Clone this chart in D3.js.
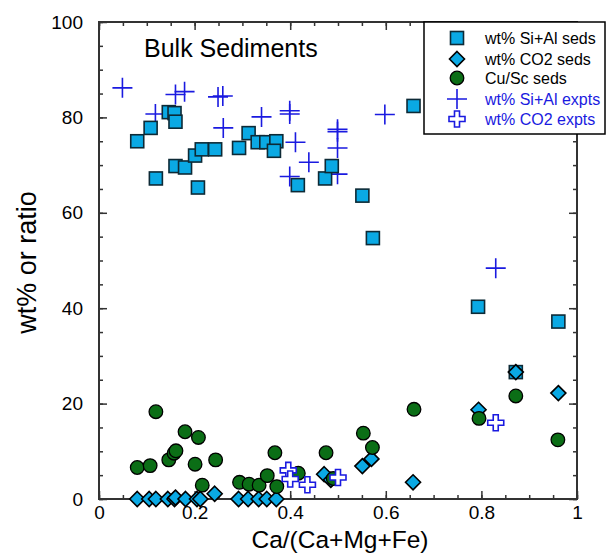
<!DOCTYPE html>
<html>
<head>
<meta charset="utf-8">
<script src="https://cdn.jsdelivr.net/npm/d3@7"></script>
<style>
  body { margin: 0; background: #fff; }
  svg { font-family: "Liberation Sans", Arial, sans-serif; }
</style>
</head>
<body>
<svg id="chart" width="610" height="560"></svg>
<script>
// Ca/(Ca+Mg+Fe) vs wt% or ratio
var siAlSeds = [[0.080,75.0],[0.108,77.8],[0.119,67.2],[0.146,81.1],[0.158,80.9],[0.160,79.1],[0.160,69.8],[0.180,69.5],
  [0.201,72.0],[0.207,65.3],[0.215,73.3],[0.243,73.3],[0.293,73.6],[0.313,76.7],[0.332,74.8],[0.350,74.8],[0.371,75.0],
  [0.366,73.0],[0.416,65.8],[0.473,67.2],[0.487,69.8],[0.551,63.6],[0.573,54.7],[0.658,82.4],[0.793,40.3],[0.872,26.6],[0.961,37.2]];
var co2Seds = [[0.080,0],[0.105,0],[0.119,0],[0.144,0],[0.158,0],[0.160,0.3],[0.181,0],[0.205,0],[0.212,0],[0.242,1.1],
  [0.292,0],[0.312,0],[0.334,0],[0.351,0],[0.371,0],[0.471,5.2],[0.485,4.0],[0.551,6.9],[0.570,8.4],[0.657,3.5],
  [0.794,18.7],[0.872,26.6],[0.961,22.2]];
var cuScSeds = [[0.080,6.6],[0.107,7.0],[0.119,18.3],[0.146,8.2],[0.157,9.6],[0.161,10.1],[0.180,14.1],[0.201,7.3],
  [0.208,12.9],[0.216,2.9],[0.244,8.2],[0.294,3.5],[0.314,3.1],[0.335,2.9],[0.352,4.9],[0.368,9.7],[0.372,2.6],[0.417,5.4],
  [0.475,9.7],[0.490,4.3],[0.553,13.8],[0.572,10.8],[0.659,18.8],[0.795,16.9],[0.872,21.6],[0.960,12.4]];
var siAlExpts = [[0.049,86.2],[0.118,80.7],[0.160,84.8],[0.179,85.4],[0.249,84.3],[0.259,84.5],[0.260,77.8],[0.340,80.1],
  [0.399,81.4],[0.399,80.7],[0.411,74.8],[0.439,70.6],[0.399,67.6],[0.499,77.5],[0.499,77.0],[0.499,73.6],[0.499,68.1],
  [0.598,80.6],[0.830,48.4]];
var co2Expts = [[0.396,6.0],[0.400,4.2],[0.436,3.0],[0.500,4.5],[0.830,16.0]];

var xMajor = [0, 0.2, 0.4, 0.6, 0.8, 1];
var yMajor = [0, 20, 40, 60, 80, 100];
var legendLabels = ["wt% Si+Al seds", "wt% CO2 seds", "Cu/Sc seds", "wt% Si+Al expts", "wt% CO2 expts"];

var margin = {left: 99, right: 33, top: 22, bottom: 61};
var svg = d3.select("#chart");
var W = 610 - margin.left - margin.right, H = 560 - margin.top - margin.bottom;
var g = svg.append("g").attr("transform", "translate(" + margin.left + "," + margin.top + ")");

var x = d3.scaleLinear().domain([0, 1]).range([0, W]);
var y = d3.scaleLinear().domain([0, 100]).range([H, 0]);

var blue = "#1a1ae0", cyan = "#0aa9e4", green = "#0b6e16", axisCol = "#333";
var xMinor = d3.range(0, 1.0001, 0.05), yMinor = d3.range(0, 100.01, 5);

function styleAxis(sel, showText) {
  sel.select(".domain").remove();
  sel.selectAll(".tick line").attr("stroke", axisCol).attr("stroke-width", 1.5);
  if (showText) sel.selectAll(".tick text").attr("fill", "#000").style("font-size", "19px");
  else sel.selectAll(".tick text").remove();
}

// minor ticks
g.append("g").attr("transform", "translate(0," + H + ")")
  .call(d3.axisBottom(x).tickValues(xMinor).tickSize(-4)).call(styleAxis, false);
g.append("g").call(d3.axisTop(x).tickValues(xMinor).tickSize(-4)).call(styleAxis, false);
g.append("g").call(d3.axisLeft(y).tickValues(yMinor).tickSize(-4)).call(styleAxis, false);
g.append("g").attr("transform", "translate(" + W + ",0)")
  .call(d3.axisRight(y).tickValues(yMinor).tickSize(-4)).call(styleAxis, false);
// major ticks
g.append("g").attr("transform", "translate(0," + H + ")")
  .call(d3.axisBottom(x).tickValues(xMajor).tickSize(-8).tickPadding(7).tickFormat(d3.format("~g"))).call(styleAxis, true);
g.append("g").call(d3.axisTop(x).tickValues(xMajor).tickSize(-8)).call(styleAxis, false);
g.append("g").call(d3.axisLeft(y).tickValues(yMajor).tickSize(-8).tickPadding(16)).call(styleAxis, true);
g.append("g").attr("transform", "translate(" + W + ",0)")
  .call(d3.axisRight(y).tickValues(yMajor).tickSize(-8)).call(styleAxis, false);

g.append("rect").attr("width", W).attr("height", H)
  .attr("fill", "none").attr("stroke", axisCol).attr("stroke-width", 2);

// symbols
var crossPath = "M-10,0H10M0,-10V10";
var openCross = "M-2.5,-8H2.5V-2.5H8V2.5H2.5V8H-2.5V2.5H-8V-2.5H-2.5Z";
var diamond = "M0,-7.5L7.5,0L0,7.5L-7.5,0Z";

g.selectAll("path.xp").data(siAlExpts).enter().append("path").attr("class", "xp")
  .attr("d", crossPath).attr("transform", function(d) { return "translate(" + x(d[0]) + "," + y(d[1]) + ")"; })
  .attr("stroke", blue).attr("stroke-width", 1.6).attr("fill", "none");

g.selectAll("rect.sq").data(siAlSeds).enter().append("rect").attr("class", "sq")
  .attr("x", function(d) { return x(d[0]) - 6.5; }).attr("y", function(d) { return y(d[1]) - 6.5; })
  .attr("width", 13).attr("height", 13)
  .attr("fill", cyan).attr("stroke", "#0d2a36").attr("stroke-width", 1.6);

g.selectAll("path.dm").data(co2Seds).enter().append("path").attr("class", "dm")
  .attr("d", diamond)
  .attr("transform", function(d) { return "translate(" + x(d[0]) + "," + y(d[1]) + ")"; })
  .attr("fill", cyan).attr("stroke", "#000").attr("stroke-width", 1.6);

g.selectAll("circle.cu").data(cuScSeds).enter().append("circle").attr("class", "cu")
  .attr("cx", function(d) { return x(d[0]); }).attr("cy", function(d) { return y(d[1]); })
  .attr("r", 6.8).attr("fill", green).attr("stroke", "#000").attr("stroke-width", 1.3);

g.selectAll("path.oc").data(co2Expts).enter().append("path").attr("class", "oc")
  .attr("d", openCross)
  .attr("transform", function(d) { return "translate(" + x(d[0]) + "," + y(d[1]) + ")"; })
  .attr("fill", "#fff").attr("stroke", blue).attr("stroke-width", 1.6);

// title
g.append("text").attr("x", 45).attr("y", 35).style("font-size", "25px").text("Bulk Sediments");

// axis labels
svg.append("text").attr("x", margin.left + W / 2 + 2).attr("y", 548)
  .attr("text-anchor", "middle").style("font-size", "24.5px").text("Ca/(Ca+Mg+Fe)");
svg.append("text").attr("transform", "translate(36," + (margin.top + H / 2 + 2) + ") rotate(-90)")
  .attr("text-anchor", "middle").style("font-size", "27px").text("wt% or ratio");

// legend
var lg = svg.append("g").attr("transform", "translate(424,22)");
lg.append("rect").attr("width", 181).attr("height", 112).attr("fill", "#fff")
  .attr("stroke", "#000").attr("stroke-width", 1.5);
var rowY = [16, 37, 56, 77, 97];
var lgItems = lg.selectAll("g.item").data(legendLabels).enter().append("g").attr("class", "item")
  .attr("transform", function(d, i) { return "translate(0," + rowY[i] + ")"; });
lgItems.append("text").attr("x", 61).attr("y", 5.5).style("font-size", "16px")
  .attr("fill", function(d, i) { return i < 3 ? "#000" : blue; }).text(function(d) { return d; });
var sx = 33;
lgItems.filter(function(d, i) { return i === 0; }).append("rect")
  .attr("x", sx - 6.5).attr("y", -6.5).attr("width", 13).attr("height", 13)
  .attr("fill", cyan).attr("stroke", "#0d2a36").attr("stroke-width", 1.6);
lgItems.filter(function(d, i) { return i === 1; }).append("path")
  .attr("d", diamond).attr("transform", "translate(" + sx + ",0)")
  .attr("fill", cyan).attr("stroke", "#000").attr("stroke-width", 1.6);
lgItems.filter(function(d, i) { return i === 2; }).append("circle")
  .attr("cx", sx).attr("r", 6.8).attr("fill", green).attr("stroke", "#000").attr("stroke-width", 1.3);
lgItems.filter(function(d, i) { return i === 3; }).append("path")
  .attr("d", crossPath).attr("transform", "translate(" + sx + ",0)")
  .attr("stroke", blue).attr("stroke-width", 1.6).attr("fill", "none");
lgItems.filter(function(d, i) { return i === 4; }).append("path")
  .attr("d", openCross).attr("transform", "translate(" + sx + ",0)")
  .attr("fill", "#fff").attr("stroke", blue).attr("stroke-width", 1.6);
</script>
</body>
</html>
